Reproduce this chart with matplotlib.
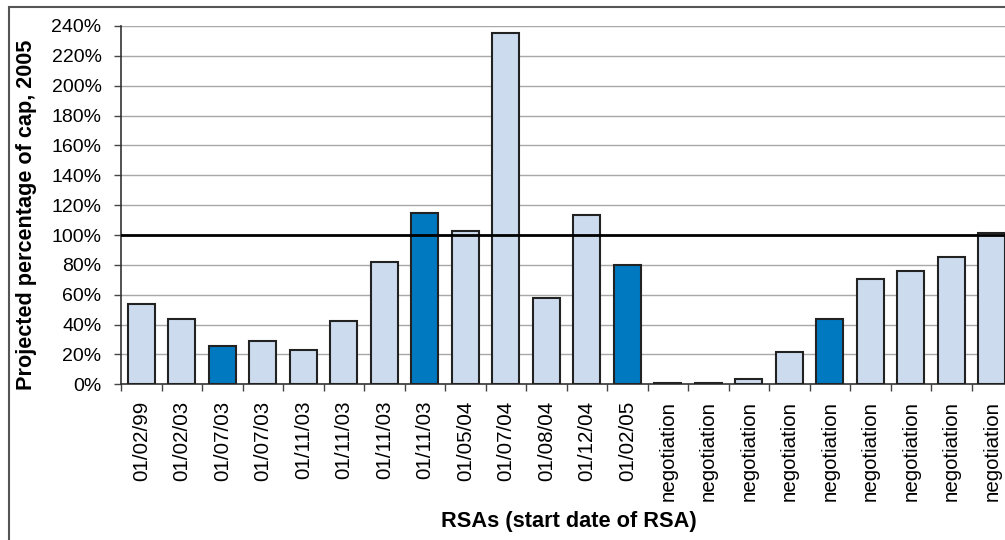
import matplotlib
matplotlib.use("Agg")
import matplotlib.pyplot as plt
from matplotlib.patches import Rectangle
from matplotlib.ticker import FixedLocator, PercentFormatter
import numpy as np

# Datos: fecha de inicio de cada RSA y porcentaje proyectado del tope
fechas = ["01/02/99", "01/02/03", "01/07/03", "01/07/03", "01/11/03", "01/11/03",
          "01/11/03", "01/11/03", "01/05/04", "01/07/04", "01/08/04", "01/12/04",
          "01/02/05"] + ["negotiation"] * 9
porcentajes = [54, 43.5, 25.5, 29, 23, 42.5, 82, 115, 103, 235, 58, 113.5,
               80, 1.2, 1.2, 3.6, 21.5, 43.8, 70.7, 76, 85, 101.5]
destacados = [2, 7, 12, 17]
tope = 100

plt.rcParams["font.family"] = ["Liberation Sans", "DejaVu Sans"]

fig = plt.figure(figsize=(10.05, 5.4), dpi=100)
W, H = 1005, 540
# el eje sigue más allá del borde derecho
ax = fig.add_axes([121 / W, (H - 384.3) / H, 891 / W, 358.3 / H])

n = len(porcentajes)
x = np.arange(n)
colores = ["#0079C1" if i in destacados else "#CCDBEE" for i in range(n)]
ax.bar(x, porcentajes, width=0.67, color=colores, edgecolor="#222222",
       linewidth=1.5, zorder=3)
ax.axhline(tope, color="black", linewidth=2, zorder=4)

ax.set_xlim(-0.5, n - 0.5)
ax.set_ylim(0, 240)
ax.set_yticks(np.arange(0, 241, 20))
ax.yaxis.set_major_formatter(PercentFormatter(decimals=0))
ax.grid(axis="y", color="#A8A8A8", linewidth=1, zorder=0)
ax.set_axisbelow(True)

ax.set_xticks(x)
ax.set_xticklabels(fechas, rotation=90)
ax.xaxis.set_minor_locator(FixedLocator(np.arange(-0.5, n, 1)))
ax.tick_params(axis="x", which="major", length=0, pad=12, labelsize=14.8)
ax.tick_params(axis="x", which="minor", length=5, width=1, color="#444444")
ax.tick_params(axis="y", length=5, width=1, color="#444444", pad=9, labelsize=14)

for lado in ["top", "right"]:
    ax.spines[lado].set_visible(False)
ax.spines["left"].set_color("#333333")
ax.spines["bottom"].set_color("#333333")
ax.spines["left"].set_linewidth(1.2)
ax.spines["bottom"].set_linewidth(1.2)

fig.text(27 / W, 1 - 215 / H, "Projected percentage of cap, 2005", rotation=90,
         ha="center", va="center", fontsize=15.6, fontweight="bold")
fig.text(569 / W, 1 - 521 / H, "RSAs (start date of RSA)", ha="center",
         va="center", fontsize=15.7, fontweight="bold")

# marco exterior del gráfico
fig.patches.append(Rectangle((9 / W, -0.1), 1.2, 1.1 - 7 / H, transform=fig.transFigure,
                             fill=False, edgecolor="#555555", linewidth=1.5))

fig.savefig("out.png", dpi=100)
